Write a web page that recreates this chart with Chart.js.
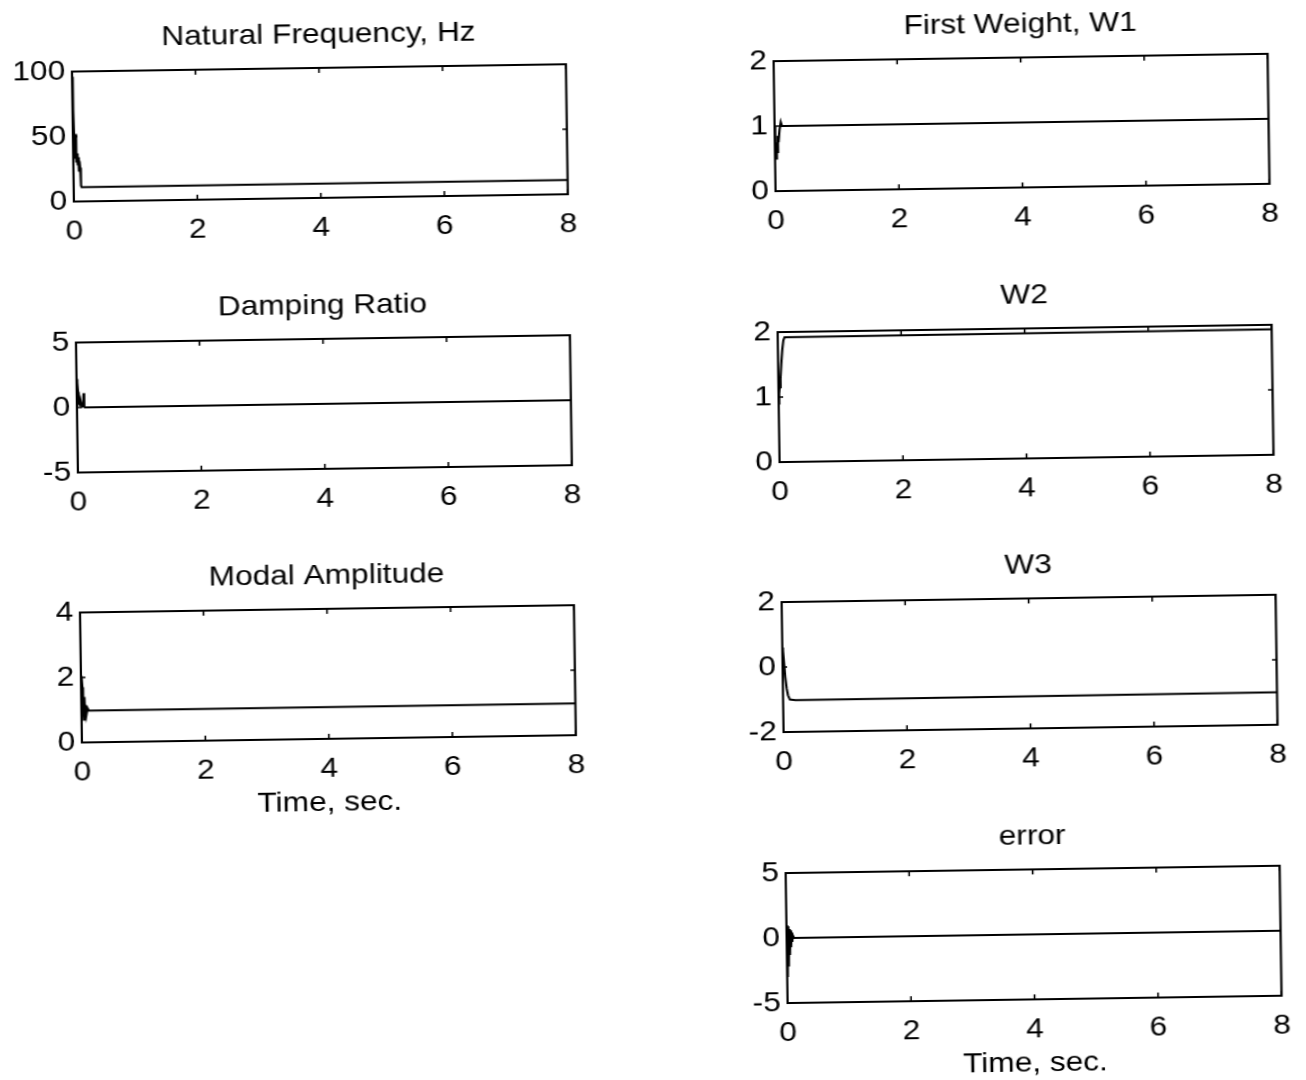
<!DOCTYPE html>
<html>
<head>
<meta charset="utf-8">
<script src="https://cdn.jsdelivr.net/npm/chart.js@4.4.1/dist/chart.umd.min.js"></script>
<style>
html, body { margin: 0; padding: 0; background: #fff; overflow: hidden; }
#sheet { position: absolute; left: 0; top: 0; width: 1306px; height: 1080px;
         transform-origin: 653px 540px; }
#sheet canvas { position: absolute; }
</style>
</head>
<body>
<div id="sheet"></div>
<script>
// time axis, seconds
const xTicks = [0, 2, 4, 6, 8];

// natural frequency, Hz
const freqT = [0, 0.01, 0.02, 0.03, 0.04, 0.05, 0.06, 0.07, 0.08, 0.09, 0.1, 0.11, 0.12, 0.13, 8];
const freqV = [96, 70, 45, 33, 52, 30, 37, 28, 34, 23, 31, 26, 12, 11, 11];
const freqTicks = [0, 50, 100];

// damping ratio
const dampT = [0, 0.01, 0.02, 0.03, 0.04, 0.05, 0.06, 0.08, 0.1, 0.11, 0.12, 0.13, 8];
const dampV = [2.2, 1.9, 1.2, 0.2, 0.8, 0.1, 0.5, 0.05, 0.1, 1.1, 0.05, 0, 0];
const dampTicks = [-5, 0, 5];

// modal amplitude
const ampT = [0, 0.01, 0.02, 0.03, 0.04, 0.05, 0.06, 0.07, 0.08, 0.1, 0.12, 8];
const ampV = [2.05, 2.0, 1.7, 1.1, 0.7, 1.4, 0.8, 1.15, 0.85, 1.05, 0.98, 0.98];
const ampTicks = [0, 2, 4];

// weights
const w1T = [0, 0.01, 0.02, 0.03, 0.04, 0.05, 0.06, 0.08, 0.1, 0.12, 8];
const w1V = [1.0, 0.65, 0.5, 0.75, 0.6, 0.85, 0.75, 0.95, 1.06, 1.0, 1.0];
const w1Ticks = [0, 1, 2];

const w2T = [0, 0.01, 0.02, 0.035, 0.05, 0.07, 0.09, 0.11, 8];
const w2V = [0.9, 1.05, 1.15, 1.28, 1.5, 1.72, 1.87, 1.92, 1.93];
const w2Ticks = [0, 1, 2];

const w3T = [0, 0.01, 0.02, 0.04, 0.06, 0.08, 0.11, 0.2, 8];
const w3V = [0.6, 0.5, 0.25, -0.3, -0.65, -0.87, -1.0, -1.02, -1.0];
const w3Ticks = [-2, 0, 2];

// error
const errT = [0, 0.01, 0.02, 0.03, 0.04, 0.05, 0.06, 0.07, 0.08, 0.09, 0.1, 0.12, 8];
const errV = [1.0, -3.0, 0.9, -2.2, 0.7, -1.3, 0.6, -0.7, 0.4, -0.3, 0.2, 0, 0];
const errTicks = [-5, 0, 5];

const FONT = "'Liberation Sans', Arial, sans-serif";
const FSIZE = 28;

// sheet is drawn narrow and stretched sideways (wide Helvetica look), then tilted a little
const SX = 1.13, TILT = -0.85;
const CX = 653;

// plot box geometry, final page px
const BOX_W = 494, BOX_H = 130;
const colX = [79, 781];
const rowY = [63, 334, 604, 875];
// space round each box, sheet px
const Y_W = 72, PAD_R = 22, TITLE_H = 50, X_H = 90;

const panels = [
  { title: 'Natural Frequency, Hz', t: freqT, v: freqV, ticks: freqTicks, col: 0, row: 0 },
  { title: 'Damping Ratio', t: dampT, v: dampV, ticks: dampTicks, col: 0, row: 1 },
  { title: 'Modal Amplitude', t: ampT, v: ampV, ticks: ampTicks, col: 0, row: 2, xlabel: 'Time, sec.' },
  { title: 'First Weight, W1', t: w1T, v: w1V, ticks: w1Ticks, col: 1, row: 0 },
  { title: 'W2', t: w2T, v: w2V, ticks: w2Ticks, col: 1, row: 1 },
  { title: 'W3', t: w3T, v: w3V, ticks: w3Ticks, col: 1, row: 2 },
  { title: 'error', t: errT, v: errV, ticks: errTicks, col: 1, row: 3, xlabel: 'Time, sec.' }
];

// box round the plot area plus short inward tick marks on all four sides
const frame = {
  id: 'frame',
  afterDatasetsDraw(chart) {
    const { ctx, chartArea: a, scales: { x, y } } = chart;
    ctx.save();
    ctx.strokeStyle = '#000';
    ctx.lineWidth = 2;
    ctx.strokeRect(a.left, a.top, a.right - a.left, a.bottom - a.top);
    ctx.lineWidth = 1.5;
    ctx.beginPath();
    x.ticks.forEach(t => {
      const px = x.getPixelForValue(t.value);
      ctx.moveTo(px, a.bottom); ctx.lineTo(px, a.bottom - 5);
      ctx.moveTo(px, a.top); ctx.lineTo(px, a.top + 5);
    });
    y.ticks.forEach(t => {
      const py = y.getPixelForValue(t.value);
      ctx.moveTo(a.left, py); ctx.lineTo(a.left + 4, py);
      ctx.moveTo(a.right, py); ctx.lineTo(a.right - 4, py);
    });
    ctx.stroke();
    ctx.restore();
  }
};

const sheet = document.getElementById('sheet');
sheet.style.transform = 'rotate(' + TILT + 'deg) scaleX(' + SX + ')';
const font = { family: FONT, size: FSIZE, weight: 'normal' };

panels.forEach(p => {
  const boxW = BOX_W / SX;
  const boxLeft = CX + (colX[p.col] - CX) / SX;
  const w = Math.round(Y_W + boxW + PAD_R);
  const h = TITLE_H + BOX_H + X_H;
  const c = document.createElement('canvas');
  c.width = w; c.height = h;
  c.style.width = w + 'px'; c.style.height = h + 'px';
  c.style.left = (boxLeft - Y_W) + 'px';
  c.style.top = (rowY[p.row] - TITLE_H) + 'px';
  sheet.appendChild(c);

  new Chart(c, {
    type: 'line',
    data: {
      datasets: [{
        data: p.t.map((t, i) => ({ x: t, y: p.v[i] })),
        borderColor: '#000',
        borderWidth: 2,
        pointRadius: 0,
        fill: false,
        tension: 0
      }]
    },
    options: {
      responsive: false,
      animation: false,
      devicePixelRatio: 1,
      layout: { padding: { left: 0, right: w - Y_W - boxW, top: 0, bottom: 0 } },
      plugins: {
        legend: { display: false },
        tooltip: { enabled: false },
        title: {
          display: true, text: p.title, color: '#000', font: font,
          padding: { top: 0, bottom: TITLE_H - FSIZE * 1.2 }, fullSize: false
        }
      },
      scales: {
        x: {
          type: 'linear', min: 0, max: 8,
          grid: { display: false, drawTicks: false },
          border: { display: false },
          ticks: { color: '#000', font: font, padding: 13, maxRotation: 0, autoSkip: false },
          afterBuildTicks: s => { s.ticks = xTicks.map(v => ({ value: v })); },
          afterFit: s => { s.height = X_H; },
          title: {
            display: !!p.xlabel, text: p.xlabel || '', color: '#000', font: font,
            padding: { top: 0, bottom: 9 }
          }
        },
        y: {
          type: 'linear', min: p.ticks[0], max: p.ticks[p.ticks.length - 1],
          grid: { display: false, drawTicks: false },
          border: { display: false },
          ticks: { color: '#000', font: font, padding: 6, autoSkip: false },
          afterBuildTicks: s => { s.ticks = p.ticks.map(v => ({ value: v })); },
          afterFit: s => { s.width = Y_W; }
        }
      }
    },
    plugins: [frame]
  });
});
</script>
</body>
</html>
